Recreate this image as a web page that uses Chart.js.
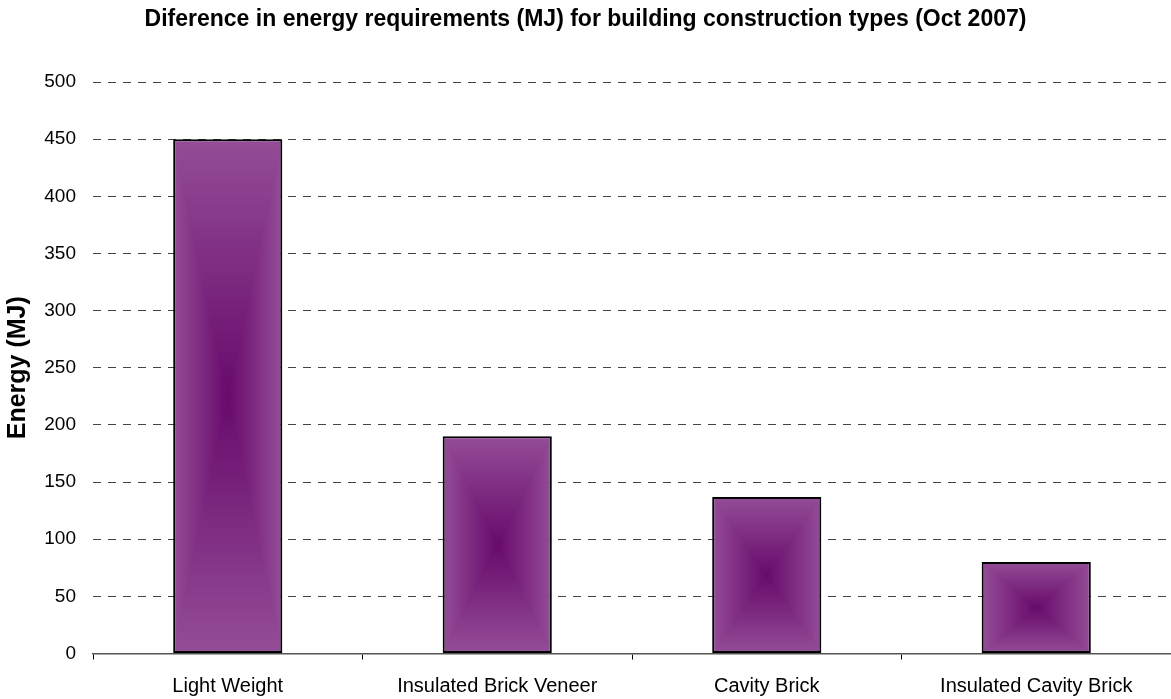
<!DOCTYPE html>
<html>
<head>
<meta charset="utf-8">
<script src="https://cdn.jsdelivr.net/npm/chart.js@4"></script>
<style>
  html, body { margin: 0; padding: 0; background: #fff; }
  #wrap { width: 1171px; height: 699px; }
</style>
</head>
<body>
<div id="wrap"><canvas id="c" width="1171" height="699"></canvas></div>
<script>
const categories = ["Light Weight", "Insulated Brick Veneer", "Cavity Brick", "Insulated Cavity Brick"];
const energyValues = [450, 190, 137, 80];
const yTicks = [0, 50, 100, 150, 200, 250, 300, 350, 400, 450, 500];
const chartTitle = "Diference in energy requirements (MJ) for building construction types (Oct 2007)";
const yAxisTitle = "Energy (MJ)";

const EDGE = [148, 77, 151];
const CENTER = [104, 10, 108];
const BAR_PCT = 0.405;

function centerGradientFill(ctx) {
  const chart = ctx.chart;
  const xs = chart.scales.x, ys = chart.scales.y;
  const edgeCss = 'rgb(' + EDGE.join(',') + ')';
  if (!xs || !ys || ctx.type !== 'data') return edgeCss;
  const i = ctx.dataIndex;
  const v = ctx.raw;
  const cx = xs.getPixelForValue(i);
  const w = xs.width / categories.length * BAR_PCT;
  const top = ys.getPixelForValue(v);
  const bottom = ys.getPixelForValue(0);
  const h = bottom - top;
  if (!isFinite(cx) || !isFinite(h) || w <= 1 || h <= 1) return edgeCss;
  const off = document.createElement('canvas');
  const W = Math.ceil(w), H = Math.ceil(h);
  off.width = W; off.height = H;
  const g = off.getContext('2d');
  const img = g.createImageData(W, H);
  const hx = w / 2, hy = h / 2;
  for (let py = 0; py < H; py++) {
    for (let px = 0; px < W; px++) {
      const dx = Math.abs(px + 0.5 - hx) / hx;
      const dy = Math.abs(py + 0.5 - hy) / hy;
      const t = Math.min(1, Math.max(dx, dy));
      const k = (py * W + px) * 4;
      img.data[k] = CENTER[0] + (EDGE[0] - CENTER[0]) * t;
      img.data[k + 1] = CENTER[1] + (EDGE[1] - CENTER[1]) * t;
      img.data[k + 2] = CENTER[2] + (EDGE[2] - CENTER[2]) * t;
      img.data[k + 3] = 255;
    }
  }
  g.putImageData(img, 0, 0);
  const pat = chart.ctx.createPattern(off, 'no-repeat');
  pat.setTransform(new DOMMatrix().translate(cx - w / 2, top));
  return pat;
}

new Chart(document.getElementById('c'), {
  type: 'bar',
  data: {
    labels: categories,
    datasets: [{
      data: energyValues,
      backgroundColor: centerGradientFill,
      borderColor: '#000',
      borderWidth: 2,
      borderSkipped: false,
      categoryPercentage: 1,
      barPercentage: BAR_PCT
    }]
  },
  options: {
    responsive: false,
    animation: false,
    devicePixelRatio: 1,
    layout: { padding: { left: 0, right: 0, top: 0, bottom: 0 } },
    plugins: {
      legend: { display: false },
      tooltip: { enabled: false },
      title: {
        display: true,
        text: chartTitle,
        color: '#000',
        font: { family: 'Liberation Sans, Arial, sans-serif', size: 23, weight: 'bold' },
        padding: { top: 6, bottom: 48.4 }
      }
    },
    scales: {
      x: {
        grid: { display: true, drawOnChartArea: false, drawTicks: true, tickLength: 6, color: '#000', offset: true },
        border: { display: true, color: '#555', width: 1.5 },
        ticks: { color: '#000', font: { family: 'Liberation Sans, Arial, sans-serif', size: 20 }, padding: 15, maxRotation: 0, autoSkip: false },
        afterFit: (s) => { s.height = 45.5; }
      },
      y: {
        min: 0, max: 500,
        afterBuildTicks: (s) => { s.ticks = yTicks.map(v => ({ value: v })); },
        grid: { color: '#444', lineWidth: 1, drawTicks: false },
        border: { display: false, dash: [8, 7] },
        ticks: { color: '#000', font: { family: 'Liberation Sans, Arial, sans-serif', size: 19 }, padding: 17 },
        title: {
          display: true, text: yAxisTitle, color: '#000',
          font: { family: 'Liberation Sans, Arial, sans-serif', size: 25, weight: 'bold' },
          padding: { top: 3, bottom: 0 }
        },
        afterFit: (s) => { s.width = 93; }
      }
    }
  }
});
</script>
</body>
</html>
